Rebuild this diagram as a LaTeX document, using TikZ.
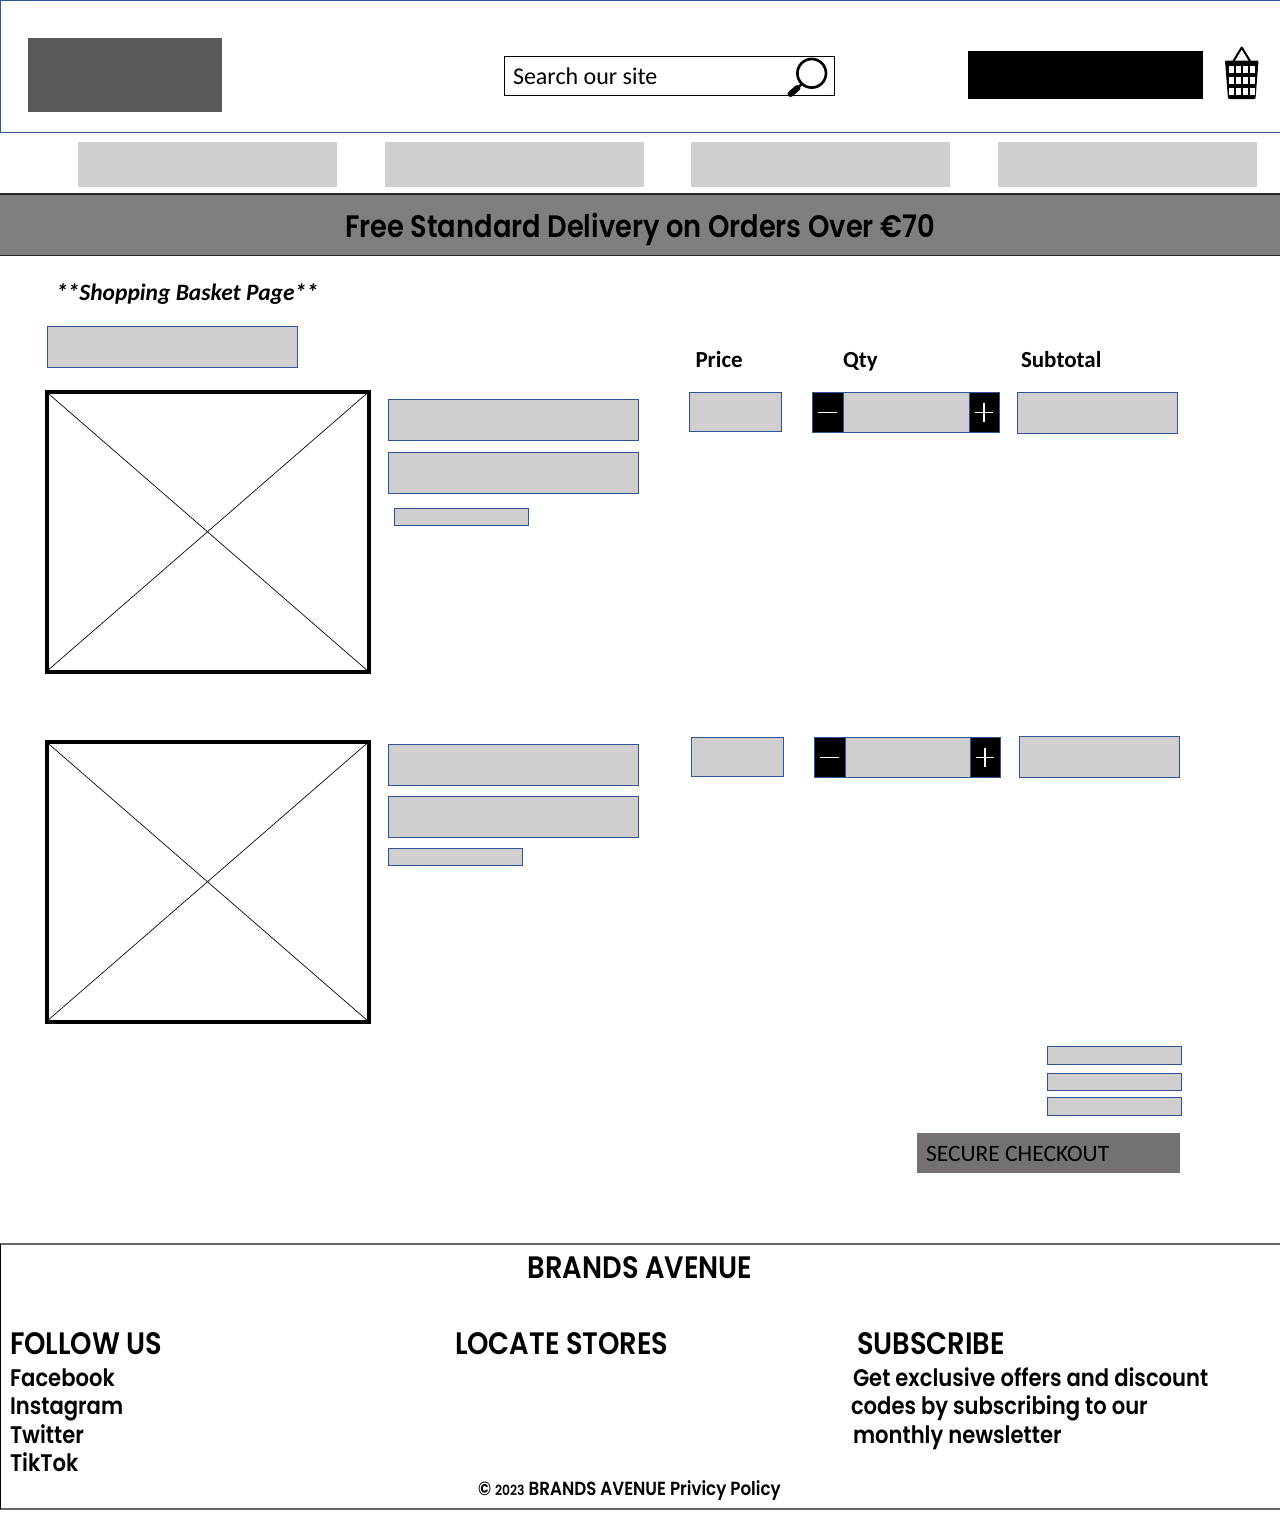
\documentclass[tikz,border=0pt]{standalone}
\usepackage{fontspec}
\setmainfont{Carlito}
\newfontfamily\futura[FakeStretch=0.88,BoldFont={Poppins SemiBold}]{Poppins}
\definecolor{hdrblue}{HTML}{2F5597}
\definecolor{boxgray}{HTML}{D0CECE}
\definecolor{logogray}{HTML}{595959}
\definecolor{bannergray}{HTML}{7F7F7F}
\definecolor{chkgray}{HTML}{767171}
\newcommand{\bx}[6]{\node[#2,minimum width={(#5-#3)*0.75pt},minimum height={(#6-#4)*0.75pt}] (#1) at ({(#3+#5)/2},{(#4+#6)/2}) {};}
\newcommand{\px}[1]{\fontsize{\the\dimexpr #1pt*3/4\relax}{\the\dimexpr #1pt*3/4\relax}\selectfont}
\begin{document}
\begin{tikzpicture}[x=0.75pt,y=-0.75pt,
  base/.style={rectangle,inner sep=0pt,outer sep=0pt},
  header/.style={base,draw=hdrblue,line width=0.75pt,fill=white},
  solid gray/.style={base,fill=boxgray},
  field/.style={base,fill=boxgray,draw=hdrblue,line width=0.7pt},
  step btn/.style={base,fill=black,draw=hdrblue,line width=0.7pt},
  image frame/.style={base,draw=black,line width=3pt,fill=white},
  cross/.style={black,line width=0.5pt},
  txt/.style={inner sep=0pt,outer sep=0pt,anchor=base west,text=black},
  cal/.style={txt},
  fut/.style={txt}]
\useasboundingbox (0,0) rectangle (1280,1514);
\fill[white] (0,0) rectangle (1280,1514);
% header
\bx{head}{header}{0.5}{0.5}{1281}{132.5}
\bx{logo}{base,fill=logogray}{28}{38}{222}{112}
\bx{search}{base,draw=black,line width=0.6pt,fill=white}{504.5}{56.5}{834.5}{95}
\node[cal,font=\px{24}] (searchtxt) at (513,84) {Search our site};
\draw[black,line width=2pt] (811.7,73.3) circle[radius=14.3];
\draw[black,line width=1.8pt] (802,84) -- (797,88);
\draw[black,line width=4.5pt,line cap=round] (797.5,88) -- (790.5,94);
\bx{account}{base,fill=black}{968}{51}{1203}{99}
% basket
\draw[black,line width=1.5pt,line join=round] (1233.5,61) -- (1241.7,47.5) -- (1250,61);
\fill[black,rounded corners=0.8pt] (1225,60.5) -- (1258.5,60.5) -- (1255.5,99) -- (1228,99) -- cycle;
\foreach \r/\ya/\yb in {1/66/73,2/76.5/84,3/87.5/94.5}{
  \foreach \xa in {1229,1236,1243,1250}{
    \fill[white] (\xa,\ya) rectangle ++(5,{\yb-\ya});
  }
}
% nav
\bx{nava}{solid gray}{78}{142}{337}{187}
\bx{navb}{solid gray}{385}{142}{644}{187}
\bx{navc}{solid gray}{691}{142}{950}{187}
\bx{navd}{solid gray}{998}{142}{1257}{187}
% banner
\bx{banner}{base,fill=bannergray,draw=black!85,line width=0.8pt}{-2}{194}{1282}{255.5}
\node[fut,anchor=base,font=\futura\bfseries\px{31}] (bannertxt) at (640,237) {Free Standard Delivery on Orders Over €70};
% body
\node[cal,font=\bfseries\itshape\px{23.5}] (pagetxt) at (56,300) {**Shopping Basket Page**};
\bx{back}{field}{47}{326.5}{297}{367}
\node[cal,font=\bfseries\px{23}] (price) at (695.5,367) {Price};
\node[cal,font=\bfseries\px{23}] (qty) at (843,367) {Qty};
\node[cal,font=\bfseries\px{23}] (subtotal) at (1021,367) {Subtotal};
% item 1
\bx{imga}{image frame}{46.5}{392}{368.5}{671.5}
\draw[cross] (imga.north west) -- (imga.south east);
\draw[cross] (imga.north east) -- (imga.south west);
\bx{aone}{field}{388}{399.5}{638.5}{440}
\bx{atwo}{field}{388}{452.5}{638}{493}
\bx{athree}{field}{394}{508.5}{528}{525.5}
\bx{aprice}{field}{689}{392.5}{781}{431}
\bx{aqty}{field}{812.5}{392.5}{999}{432}
\bx{aminus}{step btn}{812.5}{392.5}{843}{432}
\bx{aplus}{step btn}{969}{392.5}{999}{432}
\draw[white,line width=1pt] ([xshift=-7pt]aminus.center) -- ([xshift=7pt]aminus.center);
\draw[white,line width=1pt] ([xshift=-7pt]aplus.center) -- ([xshift=7pt]aplus.center);
\draw[white,line width=1pt] ([yshift=-7pt]aplus.center) -- ([yshift=7pt]aplus.center);
\bx{asub}{field}{1017}{392.5}{1177}{433}
% item 2
\bx{imgb}{image frame}{46.5}{742}{368.5}{1021.5}
\draw[cross] (imgb.north west) -- (imgb.south east);
\draw[cross] (imgb.north east) -- (imgb.south west);
\bx{bone}{field}{388}{744.5}{638}{785}
\bx{btwo}{field}{388}{796.5}{638}{837}
\bx{bthree}{field}{388}{848.5}{522}{865}
\bx{bprice}{field}{691}{737.5}{783}{776}
\bx{bqty}{field}{814.5}{737.5}{1000}{777}
\bx{bminus}{step btn}{814.5}{737.5}{845}{777}
\bx{bplus}{step btn}{970}{737.5}{1000}{777}
\draw[white,line width=1pt] ([xshift=-7pt]bminus.center) -- ([xshift=7pt]bminus.center);
\draw[white,line width=1pt] ([xshift=-7pt]bplus.center) -- ([xshift=7pt]bplus.center);
\draw[white,line width=1pt] ([yshift=-7pt]bplus.center) -- ([yshift=7pt]bplus.center);
\bx{bsub}{field}{1019}{736.5}{1179}{777}
% totals
\bx{tone}{field}{1047}{1046.5}{1181}{1064}
\bx{ttwo}{field}{1047}{1073.5}{1181}{1090}
\bx{tthree}{field}{1047}{1097.5}{1181}{1115}
\bx{checkout}{base,fill=chkgray}{917}{1133}{1180}{1172.5}
\node[cal,font=\px{23.5}] (chktxt) at (926,1161) {SECURE CHECKOUT};
% footer
\bx{footer}{base,draw=black!60,line width=0.8pt,fill=white}{0.5}{1244}{1282}{1509}
\draw[black,line width=0.6pt] (footer.north west) -- (footer.south west);
\node[fut,anchor=base,font=\futura\bfseries\px{31}] (brand) at (640,1278) {BRANDS AVENUE};
\node[fut,font=\futura\bfseries\px{31}] (follow) at (10,1354) {FOLLOW US};
\node[fut,font=\futura\bfseries\px{31}] (locate) at (455,1354) {LOCATE STORES};
\node[fut,font=\futura\bfseries\px{31}] (subscribe) at (857,1354) {SUBSCRIBE};
\node[fut,font=\futura\bfseries\px{24}] (fb) at (10,1386) {Facebook};
\node[fut,font=\futura\bfseries\px{24}] (ig) at (10,1414) {Instagram};
\node[fut,font=\futura\bfseries\px{24}] (tw) at (10,1443) {Twitter};
\node[fut,font=\futura\bfseries\px{24}] (tt) at (10,1471) {TikTok};
\node[fut,font=\futura\bfseries\px{24}] (suba) at (853,1386) {Get exclusive offers and discount};
\node[fut,font=\futura\bfseries\px{24}] (subb) at (851,1414) {codes by subscribing to our};
\node[fut,font=\futura\bfseries\px{24}] (subc) at (853,1443) {monthly newsletter};
\node[fut,font=\futura\bfseries\px{19}] (copy) at (478,1495) {© {\px{14}2023} BRANDS AVENUE Privicy Policy};
\end{tikzpicture}
\end{document}
